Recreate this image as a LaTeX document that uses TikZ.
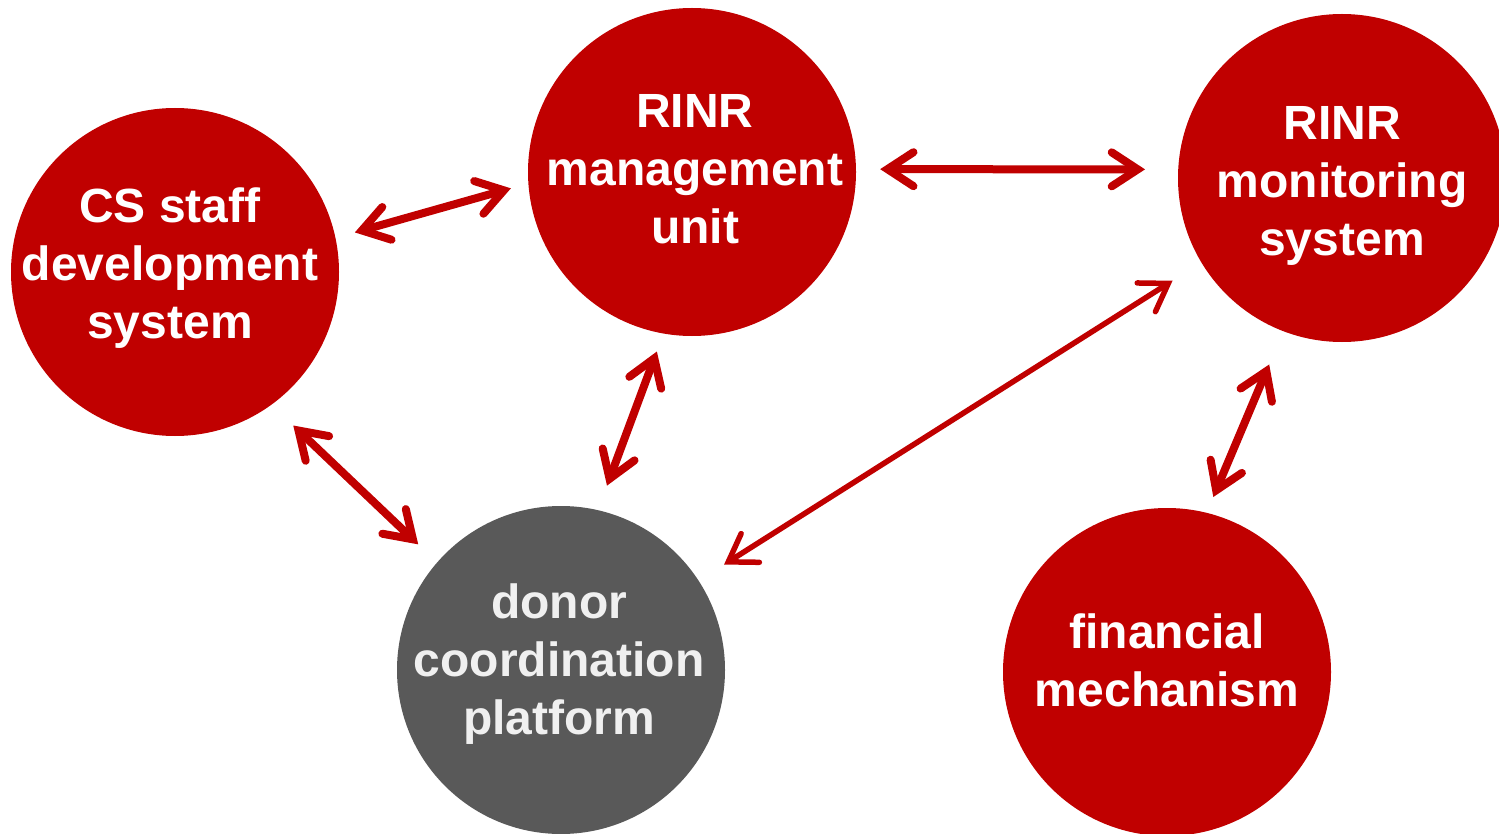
\documentclass[tikz,border=0pt]{standalone}
\usepackage{fontspec}
\setmainfont{Liberation Sans}
\definecolor{rinrred}{HTML}{C00000}
\definecolor{darkgrey}{HTML}{595959}
\usetikzlibrary{arrows.meta}
\tikzstyle{hub} = [circle, fill=rinrred, minimum size=328pt, inner sep=0pt]
\tikzstyle{donorhub} = [hub, fill=darkgrey]
\tikzstyle{lbl} = [text=white, align=center, inner sep=0pt, font=\fontsize{48}{58}\selectfont\bfseries]
\tikzstyle{link} = [rinrred, line width=8pt, >={Straight Barb[length=26pt,width=34pt,line cap=round]}, <->]
\tikzstyle{longlink} = [link, line width=5.5pt]

\begin{document}
\begin{tikzpicture}[x=1pt, y=-1pt]
\useasboundingbox (0,0) rectangle (1499,834);

\node[hub, label={[lbl, xshift=-5pt, yshift=4pt]center:CS staff\\development\\system}] (cs) at (175,272) {};
\node[hub, label={[lbl, xshift=3pt, yshift=3pt]center:RINR\\management\\unit}] (mgmt) at (692,172) {};
\node[hub, label={[lbl, yshift=-8pt]center:RINR\\monitoring\\system}] (mon) at (1342,178) {};
\node[donorhub, label={[lbl, text=white!94!black, xshift=-2pt, yshift=6pt]center:donor\\coordination\\platform}] (donor) at (561,670) {};
\node[hub, label={[lbl, yshift=12pt]center:financial\\mechanism}] (fin) at (1167,672) {};

% connections
\draw[link, shorten <=20pt, shorten >=18pt] (cs.12) -- (mgmt.184);
\draw[link, shorten <=24pt, shorten >=33pt] (mgmt.1) -- (mon.177);
\draw[link, shorten <=30pt, shorten >=26pt] (cs.306) -- (donor.139);
\draw[link, shorten <=19pt, shorten >=26pt] (mgmt.260) -- (donor.77);
\draw[longlink, shorten <=34pt, shorten >=30pt] (mon.211) -- (donor.33);
\draw[link, shorten <=36pt, shorten >=17pt] (mon.249) -- (fin.76);

\end{tikzpicture}
\end{document}
